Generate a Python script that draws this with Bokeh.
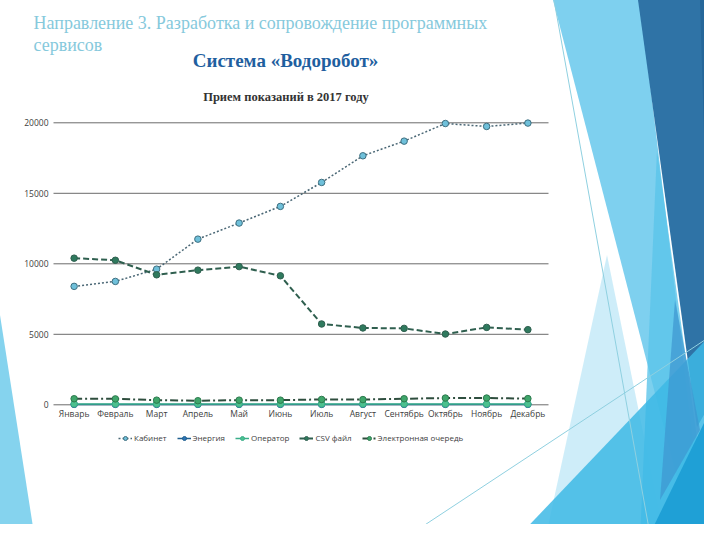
from urllib.parse import quote
from bokeh.plotting import figure
from bokeh.models import (Label, FixedTicker, Legend, LegendItem, Range1d, FactorRange,
                          InlineStyleSheet)
from bokeh.embed import file_html
from bokeh.resources import INLINE

months = ["Январь", "Февраль", "Март", "Апрель", "Май", "Июнь", "Июль",
          "Август", "Сентябрь", "Октябрь", "Ноябрь", "Декабрь"]
kabinet = [8400, 8750, 9620, 11750, 12890, 14070, 15770, 17660, 18700, 19950, 19740, 19980]
energia = [30, 30, 30, 30, 30, 30, 30, 30, 30, 30, 30, 30]
operator = [60, 60, 60, 60, 60, 60, 60, 60, 60, 60, 60, 60]
csv_file = [10400, 10250, 9220, 9550, 9800, 9150, 5730, 5450, 5420, 5020, 5490, 5330]
queue = [430, 420, 330, 290, 330, 330, 380, 370, 430, 480, 480, 440]
series_names = ["Кабинет", "Энергия", "Оператор", "CSV файл", "Электронная очередь"]
y_ticks = [0, 5000, 10000, 15000, 20000]

W, H = 704, 524
# frame in canvas pixels
FL, FR, FT, FB = 10, 591, 4, 450

# decorative background of the slide (pixels), drawn as CSS background
decor = [
    ([(0, 315), (35, 540), (0, 540)], "#85D3EE", 1.0),
    ([(553, 0), (640, 0), (705, 540), (693, 540)], "#7ED0EF", 1.0),
    ([(545, 540), (607, 255), (665, 540)], "#C9EBF8", 0.9),
    ([(638, 0), (720, 0), (720, 387), (697, 427)], "#2F73A6", 1.0),
    ([(700, 0), (720, 0), (720, 387), (712, 400)], "#26679A", 1.0),
    ([(657, 150), (700, 460), (690, 540), (640, 540)], "#5BC4EA", 0.8),
    ([(515, 540), (720, 325), (720, 540)], "#3DB8E5", 0.85),
    ([(675, 300), (700, 430), (660, 500)], "#3D95D0", 0.7),
    ([(647, 540), (720, 390), (720, 540)], "#1FA0D6", 1.0),
]
thin = [[(554, 0), (651, 540)], [(402, 540), (720, 330)]]
parts = []
for pts, col, a in decor:
    d = " ".join(f"{x},{y}" for x, y in pts)
    parts.append(f"<polygon points='{d}' fill='{col}' fill-opacity='{a}'/>")
for pts in thin:
    d = " ".join(f"{x},{y}" for x, y in pts)
    parts.append(f"<polyline points='{d}' fill='none' stroke='#8FD0E0' stroke-width='1'/>")
svg = (f"<svg xmlns='http://www.w3.org/2000/svg' width='{W}' height='{H}'>"
       + "".join(parts) + "</svg>")
css = (":host { background-color: white; background-image: url(\"data:image/svg+xml;utf8,"
       + quote(svg) + "\"); background-repeat: no-repeat; background-position: 0 0; }")

# value <-> pixel: 0 at y=404.3, 20000 at y=122.3
k = (404.3 - 122.3) / 20000.0
y_top = (404.3 - FT) / k
y_bot = -(FB - 404.3) / k
pad = (53 - FL) / ((548 - 53) / 12.0)

x_range = FactorRange(factors=months, range_padding=pad, range_padding_units="absolute")
p = figure(x_range=x_range, y_range=Range1d(y_bot, y_top),
           frame_width=FR - FL, frame_height=FB - FT,
           output_backend="svg", toolbar_location=None,
           min_border_left=FL, min_border_right=W - FR, min_border_top=FT,
           min_border_bottom=H - FB)
p.stylesheets = [InlineStyleSheet(css=css)]
p.outline_line_color = None
p.background_fill_alpha = 0
p.border_fill_alpha = 0
p.grid.visible = False

# horizontal grid lines across the category span
p.segment(x0=[0] * len(y_ticks), x1=[len(months)] * len(y_ticks), y0=y_ticks, y1=y_ticks,
          line_color="#6b6b6b", line_width=1)

p.yaxis.ticker = FixedTicker(ticks=y_ticks)
p.yaxis.fixed_location = 0
p.yaxis.axis_line_color = None
p.yaxis.major_tick_line_color = None
p.yaxis.minor_tick_line_color = None
p.yaxis.major_tick_out = 0
p.yaxis.minor_tick_out = 0
p.yaxis.major_label_standoff = 5
p.yaxis.major_label_text_font = "Open Sans"
p.yaxis.major_label_text_font_size = "8.5px"
p.yaxis.major_label_text_color = "#404040"

p.xaxis.fixed_location = 0
p.xaxis.axis_line_color = None
p.xaxis.major_tick_line_color = None
p.xaxis.major_tick_out = 0
p.xaxis.major_label_standoff = 3
p.xaxis.major_label_text_font = "Open Sans"
p.xaxis.major_label_text_font_size = "8.5px"
p.xaxis.major_label_text_color = "#404040"

styles = [
    (kabinet, "#4A6775", "2 2", 1.5, "#6FC0DA", "#3E6F80"),
    (energia, "#1F5F8F", "solid", 1.5, "#2E75B6", "#1F5F8F"),
    (operator, "#3AAE8A", "solid", 1.5, "#4CC08E", "#3AAE8A"),
    (csv_file, "#2F5F4F", "6 3", 2, "#2F7A5E", "#2F5F4F"),
    (queue, "#2E4E3E", "8 3 2 3", 2, "#3FA66B", "#2E7A4E"),
]
items = []
for name, (vals, lc, dash, lw, fc, mc) in zip(series_names, styles):
    r1 = p.line(months, vals, line_color=lc, line_dash=dash, line_width=lw)
    r2 = p.scatter(months, vals, size=6.5, fill_color=fc, line_color=mc, line_width=1)
    items.append(LegendItem(label=name, renderers=[r1, r2]))

legend = Legend(items=items, orientation="horizontal", location=(118 - FL, FB - 443),
                label_text_font="Open Sans", label_text_font_size="8px",
                label_text_color="#404040", glyph_width=14, glyph_height=10,
                spacing=10, label_standoff=2, padding=2, margin=0,
                border_line_color=None, background_fill_alpha=0)
p.add_layout(legend)

# titles (frame-relative screen units)
def sx(x): return x - FL
def sy(y): return FB - y

p.add_layout(Label(x=sx(33), y=sy(22), x_units="screen", y_units="screen",
                   text="Направление 3. Разработка и сопровождение программных",
                   text_font="Liberation Serif", text_font_size="18px", text_color="#86C9DC",
                   text_baseline="alphabetic", text_align="left"))
p.add_layout(Label(x=sx(33), y=sy(44), x_units="screen", y_units="screen",
                   text="сервисов",
                   text_font="Liberation Serif", text_font_size="18px", text_color="#86C9DC",
                   text_baseline="alphabetic", text_align="left"))
p.add_layout(Label(x=sx(285), y=sy(60), x_units="screen", y_units="screen",
                   text="Система «Водоробот»", text_font_style="bold",
                   text_font="Liberation Serif", text_font_size="19px", text_color="#1F5F9F",
                   text_baseline="alphabetic", text_align="center"))
p.add_layout(Label(x=sx(285.5), y=sy(96.5), x_units="screen", y_units="screen",
                   text="Прием показаний в 2017 году", text_font_style="bold",
                   text_font="Liberation Serif", text_font_size="12.5px", text_color="#333333",
                   text_baseline="alphabetic", text_align="center"))

open("out.html", "w").write(file_html(p, INLINE))
